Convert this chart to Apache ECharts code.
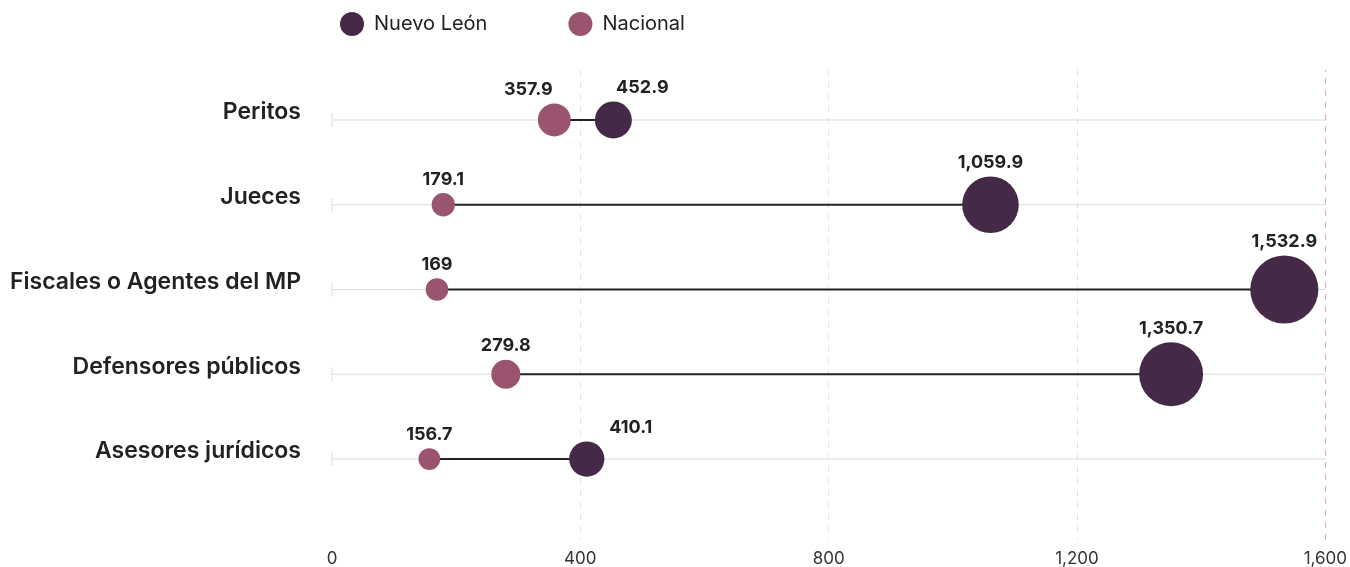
<!DOCTYPE html>
<html>
<head>
<meta charset="utf-8">
<script src="https://cdn.jsdelivr.net/npm/echarts@6/dist/echarts.min.js"></script>
<style>
html,body{margin:0;padding:0;background:#fff;}
#chart{width:1350px;height:567px;}
</style>
</head>
<body>
<div id="chart"></div>
<script>
const categories = ['Peritos', 'Jueces', 'Fiscales o Agentes del MP', 'Defensores públicos', 'Asesores jurídicos'];
const nuevoLeon = [452.9, 1059.9, 1532.9, 1350.7, 410.1];
const nacional = [357.9, 179.1, 169, 279.8, 156.7];
const xTicks = [0, 400, 800, 1200, 1600];

const DARK = '#452a47';
const PINK = '#9b5470';
const TEXT = '#222222';
const FONT = 'Inter, "Open Sans", sans-serif';

// label horizontal nudges to avoid overlaps (style only)
const nlOffsets = [29, 0, 0, 0, 44];
const nacOffsets = [-26, 0, 0, 0, 0];

function fmt(v) {
  return v.toLocaleString('en-US', {maximumFractionDigits: 1});
}
function sizeOf(v) { return 1.74 * Math.sqrt(v); }

function dots(values, offsets) {
  return values.map((v, i) => ({
    value: [v, i],
    symbolSize: sizeOf(v),
    label: {offset: [offsets[i], 0]}
  }));
}

const labelStyle = {
  show: true,
  position: 'top',
  distance: 5,
  fontFamily: FONT,
  fontWeight: 700,
  fontSize: 18,
  color: TEXT,
  formatter: p => fmt(p.value[0])
};

const option = {
  animation: false,
  backgroundColor: '#fff',
  legend: {
    top: 7,
    left: 335,
    itemWidth: 24,
    itemHeight: 24,
    itemGap: 81,
    icon: 'circle',
    textStyle: {fontFamily: FONT, fontSize: 20, color: TEXT, padding: [0, 0, 0, 5]},
    data: ['Nuevo León', 'Nacional']
  },
  grid: [
    {left: 332, right: 24, top: 77.6, bottom: 65.6},
    {left: 332, right: 24, top: 70, bottom: 27}
  ],
  xAxis: [
    {gridIndex: 0, type: 'value', min: xTicks[0], max: xTicks[xTicks.length - 1], interval: 400, show: false},
    {
      gridIndex: 1, type: 'value', min: xTicks[0], max: xTicks[xTicks.length - 1], interval: 400,
      axisLine: {show: false}, axisTick: {show: false},
      axisLabel: {
        margin: 10, fontFamily: FONT, fontSize: 17, color: '#333',
        formatter: v => v.toLocaleString('en-US')
      },
      splitLine: {
        show: true,
        lineStyle: {type: [6, 6], width: 1, color: ['rgba(0,0,0,0)', '#e4e4e4', '#e6e6e6', '#efd9e2']}
      }
    }
  ],
  yAxis: [
    {
      gridIndex: 0, type: 'category', data: categories, inverse: true,
      axisLine: {show: false}, axisTick: {show: false}, splitLine: {show: false},
      axisLabel: {
        margin: 31, fontFamily: FONT, fontWeight: 600, fontSize: 23, color: TEXT,
        verticalAlign: 'bottom', lineHeight: 15
      }
    },
    {gridIndex: 1, type: 'value', show: false, min: 0, max: 1}
  ],
  series: [
    {
      type: 'line',
      name: 'maxline',
      xAxisIndex: 1, yAxisIndex: 1,
      silent: true, z: 0,
      data: [],
      markLine: {
        silent: true,
        symbol: 'none',
        label: {show: false},
        lineStyle: {type: [6, 6], width: 1, color: '#dcaabd'},
        data: [{xAxis: xTicks[xTicks.length - 1]}]
      }
    },
    {
      type: 'custom',
      name: 'rows',
      xAxisIndex: 0, yAxisIndex: 0,
      silent: true, z: 1,
      data: categories.map((c, i) => [xTicks[0], xTicks[xTicks.length - 1], i]),
      encode: {x: [0, 1], y: 2},
      renderItem: (params, api) => {
        const a = api.coord([api.value(0), api.value(2)]);
        const b = api.coord([api.value(1), api.value(2)]);
        return {
          type: 'group',
          children: [
            {type: 'line', shape: {x1: a[0], y1: a[1], x2: b[0], y2: b[1]}, style: {stroke: '#dcdcdc', lineWidth: 1}},
            {type: 'line', shape: {x1: a[0], y1: a[1] - 7, x2: a[0], y2: a[1] + 7}, style: {stroke: '#dcdcdc', lineWidth: 1}}
          ]
        };
      }
    },
    {
      type: 'custom',
      name: 'connector',
      xAxisIndex: 0, yAxisIndex: 0,
      silent: true, z: 2,
      data: categories.map((c, i) => [nacional[i], nuevoLeon[i], i]),
      encode: {x: [0, 1], y: 2},
      renderItem: (params, api) => {
        const a = api.coord([api.value(0), api.value(2)]);
        const b = api.coord([api.value(1), api.value(2)]);
        return {type: 'line', shape: {x1: a[0], y1: a[1], x2: b[0], y2: b[1]}, style: {stroke: '#222', lineWidth: 2}};
      }
    },
    {
      type: 'scatter',
      name: 'Nuevo León',
      xAxisIndex: 0, yAxisIndex: 0, z: 3,
      itemStyle: {color: DARK, opacity: 1},
      label: labelStyle,
      data: dots(nuevoLeon, nlOffsets)
    },
    {
      type: 'scatter',
      name: 'Nacional',
      xAxisIndex: 0, yAxisIndex: 0, z: 3,
      itemStyle: {color: PINK, opacity: 1},
      label: labelStyle,
      data: dots(nacional, nacOffsets)
    }
  ]
};

const chart = echarts.init(document.getElementById('chart'), null, {renderer: 'canvas'});
chart.setOption(option);
</script>
</body>
</html>
